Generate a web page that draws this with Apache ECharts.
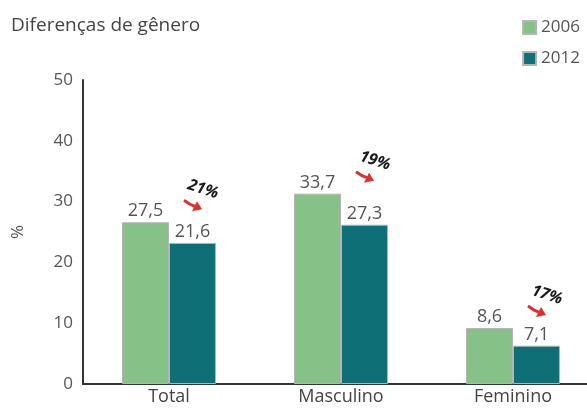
<!DOCTYPE html>
<html>
<head>
<meta charset="utf-8">
<script src="https://cdn.jsdelivr.net/npm/echarts@6/dist/echarts.min.js"></script>
<style>
html,body{margin:0;padding:0;background:#fff;}
#main{width:587px;height:412px;}
</style>
</head>
<body>
<div id="main"></div>
<script>
var categories = ['Total', 'Masculino', 'Feminino'];
// bar heights as drawn in the picture
var bars2006 = [26.6, 31.3, 9.2];
var bars2012 = [23.2, 26.2, 6.3];
// printed value labels
var labels2006 = ['27,5', '33,7', '8,6'];
var labels2012 = ['21,6', '27,3', '7,1'];
var drops = ['21%', '19%', '17%'];
var yTicks = [0, 10, 20, 30, 40, 50];

var font = 'Open Sans';
var myChart = echarts.init(document.getElementById('main'));

function barLabel(list) {
    return {
        show: true,
        position: 'top',
        distance: 2,
        color: '#555',
        fontFamily: font,
        fontSize: 18,
        formatter: function (p) { return list[p.dataIndex]; }
    };
}

var option = {
    animation: false,
    backgroundColor: '#fff',
    title: {
        text: 'Diferenças de gênero',
        left: 6,
        top: 11,
        textStyle: {color: '#444', fontFamily: font, fontSize: 19, fontWeight: 'normal'}
    },
    legend: {
        orient: 'vertical',
        right: 2,
        top: 14,
        itemWidth: 13,
        itemHeight: 13,
        itemGap: 14,
        icon: 'rect',
        textStyle: {color: '#555', fontFamily: font, fontSize: 17},
        data: ['2006', '2012']
    },
    grid: {left: 83, width: 516, top: 80, bottom: 28, containLabel: false, outerBoundsMode: 'none'},
    xAxis: {
        type: 'category',
        data: categories,
        axisLine: {lineStyle: {color: '#333', width: 2}},
        axisTick: {show: false},
        axisLabel: {color: '#444', fontFamily: font, fontSize: 18, margin: 4}
    },
    yAxis: {
        type: 'value',
        min: yTicks[0],
        max: yTicks[yTicks.length - 1],
        interval: 10,
        name: '%',
        nameLocation: 'middle',
        nameGap: 56,
        nameRotate: 90,
        nameTextStyle: {color: '#555', fontFamily: font, fontSize: 17},
        axisLine: {show: true, lineStyle: {color: '#333', width: 2}},
        axisTick: {show: false},
        splitLine: {show: false},
        axisLabel: {color: '#555', fontFamily: font, fontSize: 17, margin: 10}
    },
    series: [
        {
            name: '2006',
            type: 'bar',
            data: bars2006,
            barWidth: 47,
            barGap: '0%',
            itemStyle: {color: '#86c287', borderColor: '#b5b5b5', borderWidth: 1},
            label: barLabel(labels2006)
        },
        {
            name: '2012',
            type: 'bar',
            data: bars2012,
            barWidth: 47,
            itemStyle: {color: '#0e7076', borderColor: '#b5b5b5', borderWidth: 1},
            label: barLabel(labels2012)
        }
    ]
};
myChart.setOption(option);

// percent drop annotations with red arrows, anchored to each category's 2012 bar
var graphics = [];
for (var i = 0; i < categories.length; i++) {
    var pt = myChart.convertToPixel({gridIndex: 0}, [categories[i], bars2006[i]]);
    var cx = pt[0] + 24, ty = pt[1];
    graphics.push({
        type: 'text',
        x: cx + 10, y: ty - 33,
        rotation: -Math.PI / 10,
        z: 10,
        style: {text: drops[i], fill: '#1a1a1a', font: 'italic bold 16px ' + font,
            textAlign: 'center', textVerticalAlign: 'middle'}
    });
    graphics.push({
        type: 'group',
        x: cx, y: ty - 17,
        z: 10,
        children: [
            {type: 'polyline', shape: {points: [[-9, -5], [-3, -1], [2, 1]]},
                style: {stroke: '#d9312b', lineWidth: 3, fill: null}},
            {type: 'polygon', shape: {points: [[9, 4], [-1, 6], [4, -4]]},
                style: {fill: '#d9312b'}}
        ]
    });
}
myChart.setOption({graphic: graphics});
</script>
</body>
</html>
